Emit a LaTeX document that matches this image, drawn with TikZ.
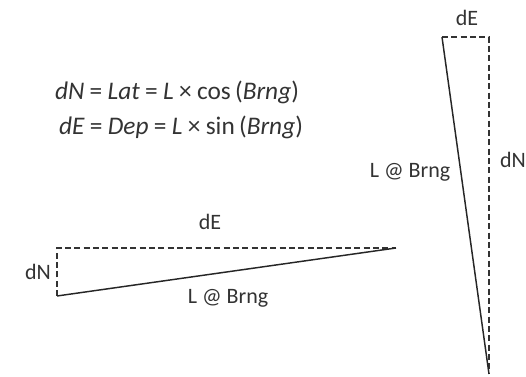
\documentclass[tikz,border=0pt]{standalone}
\usepackage{fontspec}
\setmainfont{Carlito}
\usepackage{tikz}
\usetikzlibrary{positioning}

\newcommand{\gap}{\kern4pt}

\begin{document}
\begin{tikzpicture}[
    x=0.75pt, y=0.75pt,
    every node/.style={font=\fontsize{16.5}{19}\selectfont, text=black!80, inner sep=0pt},
    leg/.style={line width=1.1pt, draw=black!85},
    dashleg/.style={line width=0.8pt, draw=black!80, dash pattern=on 4.5pt off 2.5pt},
    eqn/.style={font=\fontsize{19}{22}\selectfont}
]
\useasboundingbox (0,0) rectangle (526,377);
% formulas
\node[eqn] (latline) at (177,285) {\textit{dN}\gap=\gap\textit{Lat}\gap=\gap\textit{L}\gap×\gap cos\,(\textit{Brng})};
\node[eqn] (depline) at (181,250) {\textit{dE}\gap=\gap\textit{Dep}\gap=\gap\textit{L}\gap×\gap sin\,(\textit{Brng})};
% flat leg
\coordinate (fstart) at (57,81);
\coordinate (fend) at (396,129);
\draw[dashleg] (fstart) |- (fend);
\draw[leg] (fstart) -- (fend);
\node (fde) at (210,155) {dE};
\node (fdn) at (38,105) {dN};
\node (flen) at (228,79) {L @ Brng};
% steep leg
\coordinate (sstart) at (489,3);
\coordinate (send) at (442,340);
\draw[dashleg] (send) -| (sstart);
\draw[leg] (sstart) -- (send);
\node (sde) at (467,359) {dE};
\node (sdn) at (513,217) {dN};
\node (slen) at (410,205) {L @ Brng};
\end{tikzpicture}
\end{document}
